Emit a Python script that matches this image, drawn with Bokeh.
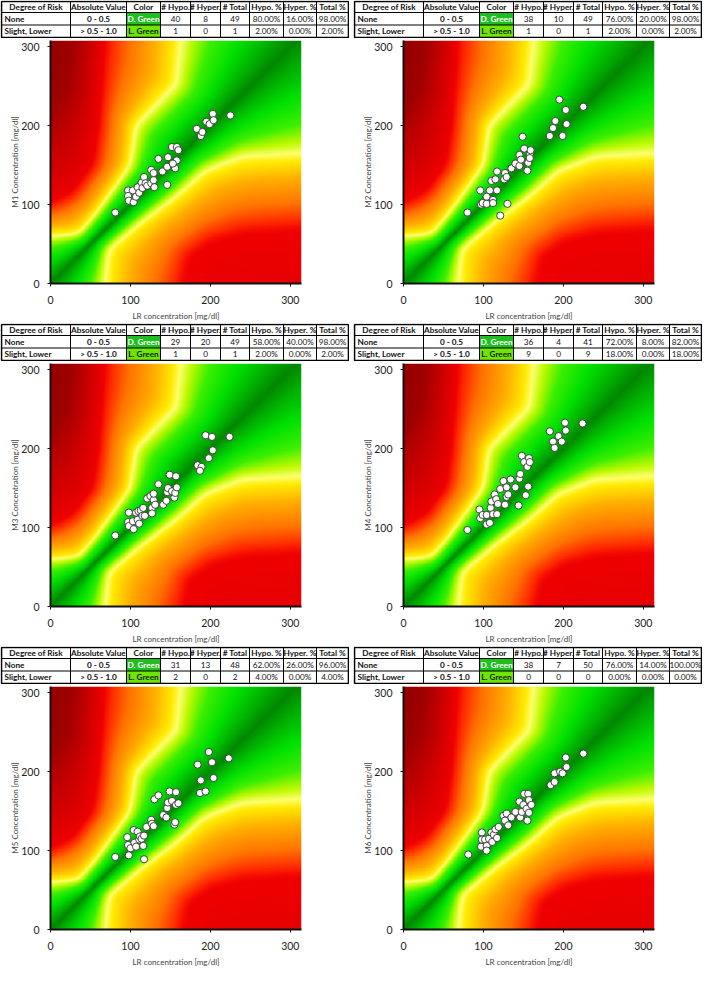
import numpy as np
from bokeh.plotting import figure
from bokeh.layouts import column, row
from bokeh.models import Range1d, FixedTicker
from bokeh.core.properties import value
from bokeh.embed import file_html
from bokeh.resources import INLINE

# ---------------- data ----------------
panel_names = ["M1", "M2", "M3", "M4", "M5", "M6"]
x_title = "LR concentration [mg/dl]"
y_titles = ["M1 Concentration [mg/dl]", "M2 Concentration [mg/dl]", "M3 Concentration [mg/dl]",
            "M4 Concentration [mg/dl]", "M5 Concentration [mg/dl]", "M6 Concentration [mg/dl]"]
axis_ticks = [0, 100, 200, 300]

x1 = [81, 97, 97, 98, 103, 104, 107, 109, 111, 114, 115, 117, 119, 121, 126, 126, 129, 130, 129, 135,
      140, 146, 146, 147, 152, 156, 158, 158, 160, 153, 183, 188, 190, 195, 199, 203, 204, 225]
y1 = [90, 118, 111, 105, 118, 103, 110, 122, 115, 128, 121, 135, 127, 124, 144, 127, 131, 122, 140, 158,
      142, 125, 148, 160, 173, 146, 173, 156, 169, 152, 196, 187, 192, 205, 202, 215, 207, 213]

x2 = [80, 96, 97, 99, 104, 104, 108, 110, 112, 112, 115, 117, 117, 121, 126, 127, 129, 130, 135, 140,
      145, 145, 147, 149, 151, 155, 156, 158, 158, 159, 183, 187, 190, 195, 199, 203, 204, 225]
y2 = [90, 118, 100, 102, 110, 101, 118, 130, 106, 102, 132, 142, 118, 86, 132, 140, 135, 101, 146, 152,
      149, 163, 157, 186, 171, 143, 153, 163, 159, 169, 187, 197, 206, 233, 187, 220, 202, 224]

x3 = [81, 98, 97, 98, 103, 104, 107, 109, 111, 110, 113, 115, 116, 118, 121, 125, 127, 127, 129, 129,
      131, 135, 141, 145, 146, 147, 149, 152, 155, 156, 157, 158, 184, 189, 187, 194, 198, 202, 203, 224]
y3 = [90, 119, 107, 102, 108, 98, 119, 110, 105, 121, 122, 115, 125, 115, 137, 140, 125, 118, 135, 143,
      129, 155, 129, 134, 145, 150, 167, 146, 138, 144, 165, 151, 179, 177, 172, 217, 188, 215, 198, 215]

x4 = [80, 95, 96, 99, 104, 104, 108, 109, 110, 112, 114, 116, 117, 118, 121, 125, 127, 129, 129, 131,
      134, 140, 144, 145, 146, 148, 151, 153, 156, 155, 157, 158, 183, 187, 189, 194, 198, 202, 203, 224]
y4 = [97, 123, 112, 116, 104, 116, 106, 125, 133, 117, 142, 136, 117, 130, 149, 159, 129, 139, 151, 142,
      161, 151, 128, 162, 168, 191, 183, 141, 152, 177, 188, 183, 222, 209, 201, 216, 209, 233, 223, 232]

x5 = [81, 96, 97, 98, 100, 104, 105, 107, 109, 111, 112, 114, 116, 117, 117, 120, 126, 127, 129, 130,
      135, 141, 145, 146, 147, 149, 152, 155, 156, 157, 157, 160, 184, 188, 187, 194, 198, 202, 204, 223]
y5 = [92, 117, 107, 94, 103, 126, 110, 105, 124, 114, 118, 115, 106, 119, 89, 130, 139, 134, 131, 165,
      170, 145, 142, 154, 161, 175, 163, 133, 136, 158, 174, 160, 209, 189, 173, 175, 225, 212, 192, 217]

x6 = [81, 97, 98, 98, 102, 104, 104, 107, 110, 111, 113, 115, 117, 119, 125, 127, 129, 131, 135, 140,
      145, 146, 148, 150, 151, 154, 155, 156, 157, 157, 160, 184, 189, 189, 196, 199, 203, 204, 225]
y6 = [95, 105, 123, 114, 114, 106, 100, 115, 123, 111, 120, 127, 116, 130, 144, 138, 147, 132, 142, 149,
      162, 142, 149, 158, 172, 153, 138, 172, 164, 148, 158, 183, 187, 198, 200, 198, 218, 206, 223]

xs_all = [x1, x2, x3, x4, x5, x6]
ys_all = [y1, y2, y3, y4, y5, y6]

table_header = ["Degree of Risk", "Absolute Value", "Color", "# Hypo.", "# Hyper.", "# Total",
                "Hypo. %", "Hyper. %", "Total %"]
risk_names = ["None", "Slight, Lower"]
abs_values = ["0 - 0.5", "> 0.5 - 1.0"]
color_names = ["D. Green", "L. Green"]
hypo_none = [40, 38, 29, 36, 31, 38]
hyper_none = [8, 10, 20, 4, 13, 7]
total_none = [49, 49, 49, 41, 48, 50]
hypo_pct_none = ["80.00%", "76.00%", "58.00%", "72.00%", "62.00%", "76.00%"]
hyper_pct_none = ["16.00%", "20.00%", "40.00%", "8.00%", "26.00%", "14.00%"]
total_pct_none = ["98.00%", "98.00%", "98.00%", "82.00%", "96.00%", "100.00%"]
hypo_slight = [1, 1, 1, 9, 2, 0]
hyper_slight = [0, 0, 0, 0, 0, 0]
total_slight = [1, 1, 1, 9, 2, 0]
hypo_pct_slight = ["2.00%", "2.00%", "2.00%", "18.00%", "4.00%", "0.00%"]
hyper_pct_slight = ["0.00%", "0.00%", "0.00%", "0.00%", "0.00%", "0.00%"]
total_pct_slight = ["2.00%", "2.00%", "2.00%", "18.00%", "4.00%", "0.00%"]

# error-grid risk contours (reference, measured) used for the background
up_yellow = [(0, 60), (37, 62), (58, 89), (100, 150), (106, 200), (158, 252), (163, 308), (170, 400)]
up_red = [(0, 100), (30, 115), (55, 150), (62, 200), (67, 308), (70, 400)]
up_dark = [(0, 215), (20, 245), (33, 330), (36, 400)]
lo_yellow = [(67, 0), (70, 45), (108, 76), (154, 110), (167, 121), (192, 144), (240, 162), (314, 165), (400, 168)]
lo_red = [(165, 0), (172, 35), (200, 55), (240, 65), (314, 70), (400, 72)]

risk_stops = [0.0, 0.25, 0.6, 1.0, 1.3, 1.5, 1.65, 2.0, 2.5, 2.85, 3.0, 3.4, 4.0]
risk_colors = [(0, 135, 0), (0, 175, 0), (0, 225, 0), (60, 240, 0), (190, 250, 0), (255, 255, 110),
               (255, 235, 0), (255, 175, 0), (255, 115, 0), (255, 40, 0), (240, 0, 0), (200, 0, 0),
               (140, 0, 0)]

X_MAX, Y_MAX = 314, 308

# ---------------- background grid ----------------
def seg_dist(X, Y, pts):
    pts = np.asarray(pts, float)
    d = np.full(X.shape, np.inf)
    for (xa, ya), (xb, yb) in zip(pts[:-1], pts[1:]):
        dx, dy = xb - xa, yb - ya
        L2 = dx * dx + dy * dy
        t = np.clip(((X - xa) * dx + (Y - ya) * dy) / L2, 0, 1)
        d = np.minimum(d, np.hypot(X - (xa + t * dx), Y - (ya + t * dy)))
    return d


def v_of_u(pts, U, sign):
    pts = np.asarray(pts, float)
    u = (pts[:, 0] + pts[:, 1]) / 2
    v = sign * (pts[:, 1] - pts[:, 0])
    return np.interp(U, u, v)


def blur(a, s):
    r = int(3 * s)
    k = np.exp(-0.5 * (np.arange(-r, r + 1) / s) ** 2)
    k /= k.sum()
    b = np.pad(a, r, mode="edge")
    b = np.apply_along_axis(lambda m: np.convolve(m, k, mode="valid"), 0, b)
    b = np.apply_along_axis(lambda m: np.convolve(m, k, mode="valid"), 1, b)
    return b


gx = np.arange(0, X_MAX) + 0.5
gy = np.arange(0, Y_MAX) + 0.5
R, M = np.meshgrid(gx, gy)
U = (R + M) / 2
V = M - R
d0 = np.abs(V) / np.sqrt(2)

dY = seg_dist(R, M, up_yellow)
dR = seg_dist(R, M, up_red)
dD = seg_dist(R, M, up_dark)
vy = v_of_u(up_yellow, U, 1)
vr = v_of_u(up_red, U, 1)
vd = v_of_u(up_dark, U, 1)
risk_up = np.where(V <= vy, 1.5 * d0 / (d0 + dY + 1e-9),
          np.where(V <= vr, 1.5 + 1.5 * dY / (dY + dR + 1e-9),
          np.where(V <= vd, 3.0 + 0.8 * dR / (dR + dD + 1e-9),
                   3.8 + 0.2 * np.clip(dD / 50, 0, 1))))

lY = seg_dist(R, M, lo_yellow)
lR = seg_dist(R, M, lo_red)
ly = v_of_u(lo_yellow, U, -1)
lr = v_of_u(lo_red, U, -1)
W_ = -V
risk_lo = np.where(W_ <= ly, 1.5 * d0 / (d0 + lY + 1e-9),
          np.where(W_ <= lr, 1.5 + 1.5 * lY / (lY + lR + 1e-9),
                   3.0 + 0.15 * np.clip(lR / 100, 0, 1)))

risk_raw = np.where(V >= 0, risk_up, risk_lo)
risk_bl = blur(risk_raw, 6.0)
wgt = np.clip((risk_raw - 0.4) / 0.6, 0, 1)
risk = (1 - wgt) * risk_raw + wgt * risk_bl

cols = np.array(risk_colors, float)
img = np.zeros((Y_MAX, X_MAX), dtype=np.uint32)
view = img.view(dtype=np.uint8).reshape((Y_MAX, X_MAX, 4))
for c in range(3):
    view[:, :, c] = np.interp(risk, risk_stops, cols[:, c]).astype(np.uint8)
view[:, :, 3] = 255

# ---------------- layout ----------------
CELL_W = 349
FONT = "Lato"
TFS = "8.2px"
col_b = [1, 70, 126, 160, 190, 220, 249, 283, 316, 348]
row_b = [37, 26, 13.5, 1]


def make_table(k):
    t = figure(width=CELL_W, height=38, x_range=Range1d(0, CELL_W), y_range=Range1d(0, 38),
               toolbar_location=None, output_backend="svg", x_axis_type=None, y_axis_type=None,
               min_border_left=0, min_border_right=0, min_border_top=0, min_border_bottom=0,
               frame_align=False)
    t.grid.visible = False
    t.outline_line_color = None
    t.quad(left=[col_b[2], col_b[2]], right=[col_b[3], col_b[3]],
           bottom=[row_b[2], row_b[3]], top=[row_b[1], row_b[2]],
           fill_color=["#1fbf1f", "#6ee600"], line_color=None)
    t.segment(x0=[col_b[0]] * 4, x1=[col_b[-1]] * 4, y0=row_b, y1=row_b, line_color="black", line_width=1)
    t.segment(x0=col_b, x1=col_b, y0=[row_b[0]] * len(col_b), y1=[row_b[-1]] * len(col_b),
              line_color="black", line_width=1)
    t.segment(x0=[col_b[0], col_b[0], col_b[0], col_b[-1]], x1=[col_b[-1], col_b[-1], col_b[0], col_b[-1]],
              y0=[row_b[0], row_b[-1], row_b[0], row_b[0]], y1=[row_b[0], row_b[-1], row_b[-1], row_b[-1]],
              line_color="black", line_width=1.6)
    cx = [(a + b) / 2 for a, b in zip(col_b[:-1], col_b[1:])]
    yc = [(row_b[i] + row_b[i + 1]) / 2 for i in range(3)]
    t.text(x=cx, y=[yc[0]] * 9, text=table_header, text_font=value(FONT), text_font_size=TFS,
           text_font_style="bold", text_align="center", text_baseline="middle", text_color="#111")
    rows = [
        [risk_names[0], abs_values[0], color_names[0], str(hypo_none[k]), str(hyper_none[k]), str(total_none[k]),
         hypo_pct_none[k], hyper_pct_none[k], total_pct_none[k]],
        [risk_names[1], abs_values[1], color_names[1], str(hypo_slight[k]), str(hyper_slight[k]),
         str(total_slight[k]), hypo_pct_slight[k], hyper_pct_slight[k], total_pct_slight[k]],
    ]
    for r, vals in enumerate(rows):
        yy = yc[r + 1]
        t.text(x=[col_b[0] + 3], y=[yy], text=[vals[0]], text_font=value(FONT), text_font_size=TFS,
               text_font_style="bold", text_align="left", text_baseline="middle", text_color="#111")
        t.text(x=[cx[1]], y=[yy], text=[vals[1]], text_font=value(FONT), text_font_size=TFS,
               text_font_style="bold", text_align="center", text_baseline="middle", text_color="#111")
        t.text(x=[cx[2]], y=[yy], text=[vals[2]], text_font=value(FONT), text_font_size=TFS,
               text_font_style="bold", text_align="center", text_baseline="middle",
               text_color="white" if r == 0 else "#1a1a1a")
        t.text(x=cx[3:], y=[yy] * 6, text=vals[3:], text_font=value(FONT), text_font_size=TFS,
               text_align="center", text_baseline="middle", text_color="#111")
    return t


def make_plot(k):
    p = figure(width=CELL_W, height=285, x_range=Range1d(0, X_MAX), y_range=Range1d(0, Y_MAX),
               toolbar_location=None, output_backend="svg", frame_align=False,
               min_border_left=50, min_border_right=48, min_border_top=2, min_border_bottom=38)
    p.image_rgba(image=[img], x=0, y=0, dw=X_MAX, dh=Y_MAX)
    p.scatter(xs_all[k], ys_all[k], size=7.2, fill_color="white", line_color="#333333", line_width=0.9)
    p.grid.visible = False
    p.outline_line_color = None
    for ax in (p.xaxis[0], p.yaxis[0]):
        ax.ticker = FixedTicker(ticks=axis_ticks)
        ax.axis_line_color = "#111111"
        ax.axis_line_width = 2
        ax.major_tick_line_color = "#111111"
        ax.major_tick_out = 3
        ax.major_tick_in = 0
        ax.minor_tick_line_color = None
        ax.major_label_text_font = FONT
        ax.major_label_text_font_size = "10.5px"
        ax.major_label_text_color = "#222222"
        ax.axis_label_text_font = FONT
        ax.axis_label_text_font_size = "8px"
        ax.axis_label_text_font_style = "normal"
        ax.axis_label_text_color = "#444444"
    p.xaxis[0].axis_label = x_title
    p.yaxis[0].axis_label = y_titles[k]
    p.xaxis[0].major_label_standoff = 9
    p.xaxis[0].axis_label_standoff = 4
    p.yaxis[0].major_label_standoff = 8
    p.yaxis[0].axis_label_standoff = -2
    return p


cells = [column(make_table(k), make_plot(k), spacing=0) for k in range(6)]
layout = column(row(cells[0], cells[1], spacing=4),
                row(cells[2], cells[3], spacing=4),
                row(cells[4], cells[5], spacing=4), spacing=0)

open("out.html", "w").write(file_html(layout, INLINE))
